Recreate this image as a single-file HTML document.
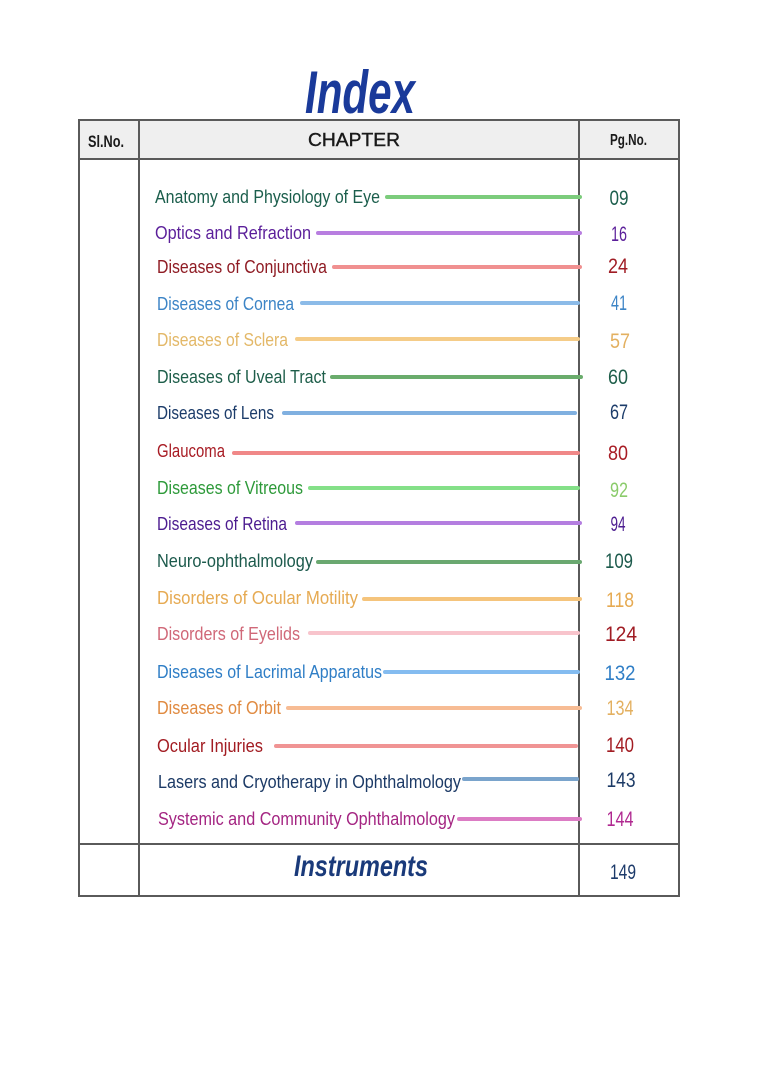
<!DOCTYPE html>
<html>
<head>
<meta charset="utf-8">
<style>
html,body{margin:0;padding:0;background:#fff;}
svg{display:block;}
text{font-family:"Liberation Sans",sans-serif;}
</style>
</head>
<body>
<svg width="762" height="1077" viewBox="0 0 762 1077" xmlns="http://www.w3.org/2000/svg">
<rect x="0" y="0" width="762" height="1077" fill="#fff"/>

<!-- Title -->
<text x="360" y="113" text-anchor="middle" font-size="60" font-weight="bold" font-style="italic" fill="#1a3a9a" textLength="110" lengthAdjust="spacingAndGlyphs">Index</text>

<!-- Table -->
<rect x="79" y="120" width="600" height="39" fill="#efefef"/>
<g stroke="#5a5a5a" stroke-width="2" fill="none">
  <rect x="79" y="120" width="600" height="776"/>
  <line x1="79" y1="159" x2="679" y2="159"/>
  <line x1="79" y1="844" x2="679" y2="844"/>
  <line x1="139" y1="120" x2="139" y2="896"/>
  <line x1="579" y1="120" x2="579" y2="896"/>
</g>

<!-- Header -->
<text x="88" y="147" font-size="17" font-weight="bold" fill="#1a1a1a" textLength="36" lengthAdjust="spacingAndGlyphs">Sl.No.</text>
<text x="354" y="146" text-anchor="middle" font-size="18" fill="#1a1a1a" stroke="#1a1a1a" stroke-width="0.4" textLength="92" lengthAdjust="spacingAndGlyphs">CHAPTER</text>
<text x="610" y="145" font-size="16" font-weight="bold" fill="#1a1a1a" textLength="37" lengthAdjust="spacingAndGlyphs">Pg.No.</text>

<!-- Lines -->
<g stroke-width="4" stroke-linecap="round">
  <line x1="387" y1="197" x2="580" y2="197" stroke="#7ccc7c"/>
  <line x1="318" y1="233" x2="580" y2="233" stroke="#b87ee0"/>
  <line x1="334" y1="267" x2="580" y2="267" stroke="#f09090"/>
  <line x1="302" y1="303" x2="578" y2="303" stroke="#8cbbe8"/>
  <line x1="297" y1="339" x2="578" y2="339" stroke="#f5cc88"/>
  <line x1="332" y1="377" x2="581" y2="377" stroke="#6aac6c"/>
  <line x1="284" y1="413" x2="575" y2="413" stroke="#80b0e0"/>
  <line x1="234" y1="453" x2="578" y2="453" stroke="#f08888"/>
  <line x1="310" y1="488" x2="578" y2="488" stroke="#84e088"/>
  <line x1="297" y1="523" x2="580" y2="523" stroke="#b47ee0"/>
  <line x1="318" y1="562" x2="580" y2="562" stroke="#6aa870"/>
  <line x1="364" y1="599" x2="580" y2="599" stroke="#f5c47c"/>
  <line x1="310" y1="633" x2="578" y2="633" stroke="#f8c4cc"/>
  <line x1="385" y1="672" x2="578" y2="672" stroke="#84bcf0"/>
  <line x1="288" y1="708" x2="580" y2="708" stroke="#f7bc94"/>
  <line x1="276" y1="746" x2="576" y2="746" stroke="#f09494"/>
  <line x1="464" y1="779" x2="577" y2="779" stroke="#7aa4cc"/>
  <line x1="459" y1="819" x2="580" y2="819" stroke="#dc7cc4"/>
</g>

<!-- Chapter texts -->
<g font-size="18.5">
  <text x="155" y="203" fill="#1b5e4c" textLength="225" lengthAdjust="spacingAndGlyphs">Anatomy and Physiology of Eye</text>
  <text x="155" y="239" fill="#5b1f9a" textLength="156" lengthAdjust="spacingAndGlyphs">Optics and Refraction</text>
  <text x="157" y="273" fill="#8f1c24" textLength="170" lengthAdjust="spacingAndGlyphs">Diseases of Conjunctiva</text>
  <text x="157" y="310" fill="#3c84c6" textLength="137" lengthAdjust="spacingAndGlyphs">Diseases of Cornea</text>
  <text x="157" y="346" fill="#e3b868" textLength="131" lengthAdjust="spacingAndGlyphs">Diseases of Sclera</text>
  <text x="157" y="383" fill="#1e5e4a" textLength="169" lengthAdjust="spacingAndGlyphs">Diseases of Uveal Tract</text>
  <text x="157" y="419" fill="#1c3c6a" textLength="117" lengthAdjust="spacingAndGlyphs">Diseases of Lens</text>
  <text x="157" y="457" fill="#a81c24" textLength="68" lengthAdjust="spacingAndGlyphs">Glaucoma</text>
  <text x="157" y="494" fill="#2e9a3a" textLength="146" lengthAdjust="spacingAndGlyphs">Diseases of Vitreous</text>
  <text x="157" y="530" fill="#4c1c90" textLength="130" lengthAdjust="spacingAndGlyphs">Diseases of Retina</text>
  <text x="157" y="567" fill="#1c5a4c" textLength="156" lengthAdjust="spacingAndGlyphs">Neuro-ophthalmology</text>
  <text x="157" y="604" fill="#e6aa52" textLength="201" lengthAdjust="spacingAndGlyphs">Disorders of Ocular Motility</text>
  <text x="157" y="640" fill="#d06878" textLength="143" lengthAdjust="spacingAndGlyphs">Disorders of Eyelids</text>
  <text x="157" y="678" fill="#2f7ec6" textLength="225" lengthAdjust="spacingAndGlyphs">Diseases of Lacrimal Apparatus</text>
  <text x="157" y="714" fill="#e08a40" textLength="124" lengthAdjust="spacingAndGlyphs">Diseases of Orbit</text>
  <text x="157" y="752" fill="#a21c22" textLength="106" lengthAdjust="spacingAndGlyphs">Ocular Injuries</text>
  <text x="158" y="788" fill="#1c3a66" textLength="303" lengthAdjust="spacingAndGlyphs">Lasers and Cryotherapy in Ophthalmology</text>
  <text x="158" y="825" fill="#a42582" textLength="297" lengthAdjust="spacingAndGlyphs">Systemic and Community Ophthalmology</text>
</g>

<!-- Page numbers -->
<g font-size="21" text-anchor="middle">
  <text x="619" y="205" fill="#1b5e4c" textLength="19" lengthAdjust="spacingAndGlyphs">09</text>
  <text x="619" y="241" fill="#5b1f9a" textLength="16" lengthAdjust="spacingAndGlyphs">16</text>
  <text x="618" y="273" fill="#a01c24" textLength="20" lengthAdjust="spacingAndGlyphs">24</text>
  <text x="619" y="310" fill="#3c84c6" textLength="16" lengthAdjust="spacingAndGlyphs">41</text>
  <text x="620" y="348" fill="#e3b060" textLength="20" lengthAdjust="spacingAndGlyphs">57</text>
  <text x="618" y="384" fill="#1e5e4a" textLength="20" lengthAdjust="spacingAndGlyphs">60</text>
  <text x="619" y="419" fill="#1c3c6a" textLength="18" lengthAdjust="spacingAndGlyphs">67</text>
  <text x="618" y="460" fill="#a81c24" textLength="20" lengthAdjust="spacingAndGlyphs">80</text>
  <text x="619" y="497" fill="#8acb6a" textLength="18" lengthAdjust="spacingAndGlyphs">92</text>
  <text x="618" y="531" fill="#4c1c90" textLength="15" lengthAdjust="spacingAndGlyphs">94</text>
  <text x="619" y="568" fill="#1c5a4c" textLength="28" lengthAdjust="spacingAndGlyphs">109</text>
  <text x="620" y="607" fill="#e6aa52" textLength="28" lengthAdjust="spacingAndGlyphs">118</text>
  <text x="621" y="641" fill="#a01c24" textLength="32" lengthAdjust="spacingAndGlyphs">124</text>
  <text x="620" y="680" fill="#2f7ec6" textLength="31" lengthAdjust="spacingAndGlyphs">132</text>
  <text x="620" y="715" fill="#e3b060" textLength="27" lengthAdjust="spacingAndGlyphs">134</text>
  <text x="620" y="752" fill="#a21c22" textLength="28" lengthAdjust="spacingAndGlyphs">140</text>
  <text x="621" y="787" fill="#1c3a66" textLength="29" lengthAdjust="spacingAndGlyphs">143</text>
  <text x="620" y="826" fill="#b02890" textLength="27" lengthAdjust="spacingAndGlyphs">144</text>
  <text x="623" y="879" fill="#1c3a6a" textLength="26" lengthAdjust="spacingAndGlyphs">149</text>
</g>

<!-- Instruments -->
<text x="361" y="876" text-anchor="middle" font-size="30" font-weight="bold" font-style="italic" fill="#1a3a7a" textLength="134" lengthAdjust="spacingAndGlyphs">Instruments</text>
</svg>
</body>
</html>
